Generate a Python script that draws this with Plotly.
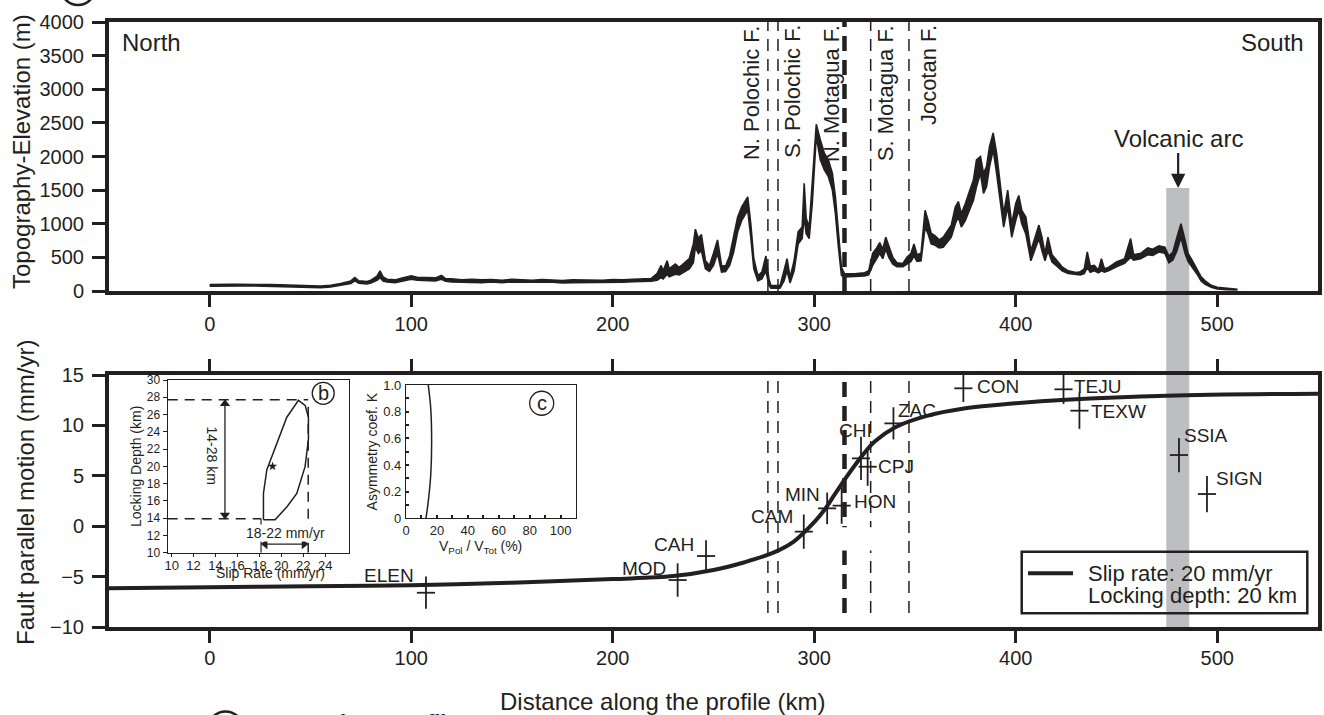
import plotly.graph_objects as go

# ---------------- data ----------------
# swath topography profile: distance (km), maximum and minimum elevation (m)
topo_km = [0, 5, 10, 15, 20, 25, 30, 35, 40, 45, 50, 55, 60, 65, 70, 72, 74, 78, 80, 83, 84.5, 86, 88, 92, 95,
           100, 103, 108, 112, 115, 117, 120, 125, 130, 135, 140, 145, 150, 155, 160, 165, 170, 175, 180, 185,
           190, 195, 200, 205, 210, 215, 219, 222, 224, 225, 227, 228, 231, 233, 235, 238, 240, 241, 242.5, 244,
           246, 248, 250, 252, 254, 256, 258, 260, 262, 264, 266, 267, 268.5, 270, 272, 274, 276, 277.5, 278.5,
           283, 285, 286.5, 288, 290, 292, 294, 295, 296, 297.5, 299, 301, 303, 305, 307, 309, 310.5, 312, 313.5,
           315, 320, 325, 327, 329, 331, 332.5, 334, 335.5, 337, 339, 341, 344, 346, 348, 349.5, 351, 353, 355,
           356.5, 358, 360, 362, 364, 366, 368, 370, 371.5, 373, 375, 377, 379, 380.5, 382.5, 384, 385.5, 387,
           388.8, 390.5, 392, 394, 396, 398, 400, 401.5, 403, 405, 407.5, 409.5, 411.5, 413, 414.5, 416, 418,
           420, 423, 426, 430, 432, 434, 435.5, 437, 439, 441, 442.5, 444, 446, 450, 454, 457, 458.5, 462, 465.5,
           468, 471, 474, 476, 478, 480, 482, 484, 485.5, 487.5, 490, 492, 494, 497, 500, 505, 510]
topo_max = [95, 100, 100, 98, 100, 98, 95, 92, 88, 80, 75, 72, 85, 110, 150, 200, 150, 140, 160, 220, 300, 210, 175,
            165, 190, 225, 205, 200, 195, 230, 185, 180, 165, 175, 165, 170, 160, 175, 165, 160, 170, 165, 155,
            165, 160, 165, 160, 170, 165, 175, 178, 185, 260, 380, 300, 450, 330, 400, 350, 400, 480, 700, 920,
            780, 840, 450, 380, 560, 760, 380, 370, 520, 800, 1100, 1250, 1340, 1400, 1000, 480, 230, 280, 520,
            180, 80, 80, 300, 480, 200, 450, 880, 950, 1600, 1080, 950, 1600, 2480, 2250, 2050, 1950, 1750, 1400,
            900, 350, 260, 255, 270, 300, 560, 640, 720, 620, 800, 660, 500, 420, 410, 500, 560, 700, 540, 560,
            1200, 1050, 860, 820, 760, 800, 900, 980, 1250, 1330, 1150, 1300, 1480, 1650, 1950, 2000, 1750, 1850,
            2150, 2350, 2050, 1700, 1150, 1500, 1000, 1300, 1420, 1200, 1100, 600, 780, 980, 800, 560, 800, 540,
            470, 360, 300, 275, 285, 330, 580, 370, 380, 310, 480, 330, 350, 430, 480, 780, 540, 560, 640, 620,
            670, 650, 520, 580, 800, 1000, 760, 560, 460, 330, 210, 150, 85, 55, 35, 25]
topo_min = [70, 75, 78, 75, 78, 75, 72, 68, 62, 58, 52, 50, 60, 80, 110, 150, 115, 105, 120, 160, 200, 150, 135,
            125, 140, 175, 160, 150, 150, 175, 145, 135, 130, 135, 125, 135, 125, 135, 130, 125, 130, 130, 120,
            125, 125, 130, 125, 130, 130, 140, 140, 145, 160, 200, 180, 250, 210, 250, 240, 280, 330, 420, 650,
            560, 600, 330, 290, 380, 560, 280, 290, 380, 580, 880, 1050, 1150, 1200, 800, 330, 150, 180, 300,
            90, 40, 40, 150, 300, 120, 300, 700, 780, 1100, 850, 780, 1300, 2300, 1950, 1800, 1700, 1500, 1150,
            650, 230, 210, 215, 225, 240, 380, 480, 560, 480, 620, 500, 400, 360, 360, 400, 440, 520, 440, 450,
            950, 850, 700, 680, 640, 650, 720, 800, 1000, 1100, 950, 1050, 1200, 1350, 1550, 1750, 1450, 1550,
            1850, 2100, 1750, 1400, 950, 1250, 800, 1050, 1200, 1000, 850, 450, 600, 780, 600, 450, 600, 430,
            380, 300, 260, 240, 240, 260, 350, 280, 300, 270, 300, 280, 300, 360, 410, 500, 460, 480, 540, 530,
            580, 560, 420, 460, 600, 800, 560, 440, 360, 250, 150, 100, 55, 30, 20, 15]

fault_km = [277, 282, 315, 328, 347]
fault_major = [False, False, True, False, False]
fault_names = ["N. Polochic F.", "S. Polochic F.", "N. Motagua F.", "S. Motagua F.", "Jocotan F."]
fault_label_km = [268.9, 289.2, 308.6, 335.2, 356.5]

arc_km = [474.7, 486.1]
arc_label_km = 480.6
arc_top_elev = 1530

# elastic dislocation model (slip rate 20 mm/yr, locking depth 20 km)
model_km = [-50, 0, 50, 100, 150, 200, 230, 250, 265, 280, 290, 300, 305, 310, 315, 320, 325, 330, 340,
            355, 375, 400, 425, 475, 550]
model_v = [-6.15, -6.05, -5.95, -5.85, -5.6, -5.25, -4.95, -4.35, -3.6, -2.6, -1.5, 0.4, 1.6, 3.1, 4.6,
           6.0, 7.3, 8.4, 9.8, 10.9, 11.7, 12.2, 12.55, 12.95, 13.15]
model_label = ["Slip rate: 20 mm/yr", "Locking depth: 20 km"]

st_names = ["ELEN", "MOD", "CAH", "CAM", "MIN", "HON", "CHI", "CPJ", "ZAC", "CON", "TEJU", "TEXW", "SSIA", "SIGN"]
st_km = [107.3, 232.2, 246.3, 294.8, 306.4, 313.6, 323.2, 326.5, 339.3, 374.0, 423.7, 431.6, 481.0, 494.9]
st_v = [-6.6, -5.34, -2.96, -0.54, 1.77, 2.04, 6.73, 5.9, 10.2, 13.68, 13.58, 11.46, 7.06, 3.19]
st_err = [1.6, 1.66, 1.57, 1.7, 1.57, 1.8, 2.15, 1.9, 1.6, 1.36, 1.45, 1.8, 1.7, 1.8]
st_km_err = 4.5

# inset b: slip rate / locking depth misfit contour
b_rate = [18.37, 18.37, 18.68, 19.59, 20.5, 21.56, 22.17, 22.47, 22.47, 22.17, 21.41, 20.5, 19.43, 18.37]
b_depth = [13.81, 16.87, 19.61, 22.75, 25.69, 27.65, 27.06, 25.69, 23.14, 20.0, 16.87, 15.3, 13.81, 13.81]
b_best_rate = [19.2]
b_best_depth = [20.0]
b_depth_range = [13.93, 27.7]
b_rate_range = [18.15, 22.45]

# inset c: asymmetry coefficient
c_ratio = [12.9, 14.4, 16.0, 16.6, 16.0, 14.4]
c_K = [0.0, 0.125, 0.325, 0.575, 0.825, 1.0]

# ---------------- layout helpers ----------------
W, H = 1324, 715
ML, MR, MT, MB = 109, 6, 22, 88
PW, PH = W - ML - MR, H - MT - MB


def px(x):
    return (x - ML) / PW


def py(y):
    return (H - MB - y) / PH


INK = "#231f20"
FONT = "Liberation Sans, Arial, sans-serif"

fig = go.Figure()

# topography swath (band between min and max)
fig.add_trace(go.Scatter(x=topo_km, y=topo_min, mode="lines", xaxis="x", yaxis="y",
                         line=dict(color=INK, width=1.6), showlegend=False, hoverinfo="skip"))
fig.add_trace(go.Scatter(x=topo_km, y=topo_max, mode="lines", xaxis="x", yaxis="y", fill="tonexty",
                         fillcolor=INK, line=dict(color=INK, width=1.6), showlegend=False, hoverinfo="skip"))

# model curve
fig.add_trace(go.Scatter(x=model_km, y=model_v, mode="lines", xaxis="x2", yaxis="y2",
                         line=dict(color=INK, width=4, shape="spline", smoothing=1.0),
                         name=" ".join(model_label), showlegend=False, hoverinfo="skip"))

# GPS stations
fig.add_trace(go.Scatter(x=st_km, y=st_v, mode="markers", xaxis="x2", yaxis="y2",
                         marker=dict(color="rgba(0,0,0,0)", size=2),
                         error_x=dict(type="constant", value=st_km_err, width=0, thickness=1.8, color=INK),
                         error_y=dict(type="data", array=st_err, width=0, thickness=1.8, color=INK),
                         showlegend=False, hoverinfo="skip"))

# inset b
fig.add_trace(go.Scatter(x=b_rate, y=b_depth, mode="lines", xaxis="x3", yaxis="y3",
                         line=dict(color=INK, width=1.5), showlegend=False, hoverinfo="skip"))
fig.add_trace(go.Scatter(x=b_best_rate, y=b_best_depth, mode="markers", xaxis="x3", yaxis="y3",
                         marker=dict(symbol="star", size=7, color=INK), showlegend=False, hoverinfo="skip"))
# double arrows (depth range, rate range)
arr_x = 14.86
fig.add_trace(go.Scatter(x=[arr_x, arr_x], y=[b_depth_range[1] - 0.45, b_depth_range[0] + 0.45],
                         mode="lines+markers", xaxis="x3", yaxis="y3", line=dict(color=INK, width=1.3),
                         marker=dict(symbol=["triangle-up", "triangle-down"], size=9, color=INK),
                         showlegend=False, hoverinfo="skip"))
fig.add_trace(go.Scatter(x=[b_rate_range[0] + 0.38, b_rate_range[1] - 0.38], y=[11.0, 11.0],
                         mode="lines+markers", xaxis="x3", yaxis="y3", line=dict(color=INK, width=1.3),
                         marker=dict(symbol=["triangle-left", "triangle-right"], size=9, color=INK),
                         showlegend=False, hoverinfo="skip"))

# inset c
fig.add_trace(go.Scatter(x=c_ratio, y=c_K, mode="lines", xaxis="x4", yaxis="y4",
                         line=dict(color=INK, width=1.5, shape="spline"), showlegend=False, hoverinfo="skip"))

shapes = []
# volcanic arc band
shapes.append(dict(type="rect", xref="x", yref="paper", x0=arc_km[0], x1=arc_km[1], y0=0,
                   y1=py(291) + (arc_top_elev / 4000) * (1 - py(291)),
                   fillcolor="#bcbec0", line=dict(width=0), layer="below"))
# fault lines
for fk, major in zip(fault_km, fault_major):
    style = dict(color=INK, width=4.5 if major else 1.5, dash="15px,9px" if major else "12px,8px")
    shapes.append(dict(type="line", xref="x", yref="y domain", x0=fk, x1=fk, y0=0, y1=1,
                       line=style, layer="below"))
    shapes.append(dict(type="line", xref="x2", yref="y2", x0=fk, x1=fk, y0=-8.6, y1=15,
                       line=style, layer="below"))
# gap in fault lines near HON
shapes.append(dict(type="rect", xref="x2", yref="y2", x0=311, x1=331, y0=-2.4, y1=-0.1,
                   fillcolor="white", line=dict(width=0), layer="below"))

# inset b dashed guides and bounds
dash_b = dict(color=INK, width=1.5, dash="10px,7px")
shapes.append(dict(type="line", xref="x3", yref="y3", x0=9.64, x1=b_rate_range[1],
                   y0=b_depth_range[1], y1=b_depth_range[1], line=dash_b))
shapes.append(dict(type="line", xref="x3", yref="y3", x0=9.64, x1=b_rate_range[0],
                   y0=b_depth_range[0], y1=b_depth_range[0], line=dash_b))
shapes.append(dict(type="line", xref="x3", yref="y3", x0=b_rate_range[1], x1=b_rate_range[1],
                   y0=10, y1=b_depth_range[1], line=dash_b))
shapes.append(dict(type="line", xref="x3", yref="y3", x0=b_rate_range[0], x1=b_rate_range[0],
                   y0=10, y1=b_depth_range[0], line=dict(color=INK, width=1.2)))
# panel circles
shapes.append(dict(type="circle", xref="x3", yref="y3", xsizemode="pixel", ysizemode="pixel",
                   xanchor=23.82, yanchor=28.46, x0=-11, x1=11, y0=-11, y1=11,
                   line=dict(color=INK, width=1.3)))
shapes.append(dict(type="circle", xref="x4", yref="y4", xsizemode="pixel", ysizemode="pixel",
                   xanchor=87.8, yanchor=0.863, x0=-12, x1=12, y0=-12, y1=12,
                   line=dict(color=INK, width=1.3)))
shapes.append(dict(type="circle", xref="paper", yref="paper", x0=px(61), x1=px(95), y0=py(5), y1=py(-29),
                   line=dict(color=INK, width=2.5)))
shapes.append(dict(type="circle", xref="paper", yref="paper", x0=px(208), x1=px(243), y0=py(746), y1=py(711.5),
                   line=dict(color=INK, width=2.5)))
# legend box and sample line for the model curve
shapes.append(dict(type="rect", xref="paper", yref="paper", x0=px(1021.7), x1=px(1307.3), y0=py(613.3),
                   y1=py(551.7), line=dict(color=INK, width=2.5)))
shapes.append(dict(type="line", xref="paper", yref="paper", x0=px(1028), x1=px(1073), y0=py(573.3),
                   y1=py(573.3), line=dict(color=INK, width=4)))

ann = []
fs = dict(family=FONT, color=INK)
# axis titles
ann.append(dict(text="Topography-Elevation (m)", x=px(22), y=py(152), xref="paper", yref="paper",
                xanchor="center", yanchor="middle", textangle=-90, showarrow=False, font=dict(size=24, **fs)))
ann.append(dict(text="Fault parallel motion (mm/yr)", x=px(25), y=py(493), xref="paper", yref="paper",
                xanchor="center", yanchor="middle", textangle=-90, showarrow=False, font=dict(size=24, **fs)))
ann.append(dict(text="Distance along the profile (km)", x=px(662), y=py(701), xref="paper", yref="paper",
                xanchor="center", yanchor="middle", showarrow=False, font=dict(size=24, **fs)))
ann.append(dict(text="North", x=px(120), y=py(43), xref="paper", yref="paper", xanchor="left",
                yanchor="middle", showarrow=False, font=dict(size=24, **fs)))
ann.append(dict(text="South", x=px(1306), y=py(43), xref="paper", yref="paper", xanchor="right",
                yanchor="middle", showarrow=False, font=dict(size=24, **fs)))
for name, lk in zip(fault_names, fault_label_km):
    ann.append(dict(text=name, x=lk, y=1, xref="x", yref="y domain", xanchor="center", yanchor="top",
                    yshift=-1, textangle=-90, showarrow=False, font=dict(size=22, **fs)))
ann.append(dict(text="Volcanic arc", x=arc_label_km, y=arc_top_elev, xref="x", yref="y",
                ax=0, ay=-50, showarrow=True, arrowhead=2, arrowsize=1.3, arrowwidth=2.2,
                arrowcolor=INK, font=dict(size=24, **fs)))
for i, txt in enumerate(model_label):
    ann.append(dict(text=txt, x=px(1086), y=py(573 + 22 * i), xref="paper", yref="paper", xanchor="left",
                    yanchor="middle", showarrow=False, font=dict(size=22, **fs)))

# station labels (anchor, dx, dy in px)
st_label_pos = [("right", -10, -17), ("right", -10, -12), ("right", -10, -12), ("right", -9, -15),
                ("right", -5, -14), ("left", 10, -4), ("right", 13, -28), ("left", 8, 0),
                ("left", 3, -13), ("left", 12, -2), ("left", 8, -3), ("left", 10, 1),
                ("left", 3, -20), ("left", 7, -16)]
for name, k, v, (anc, dx, dy) in zip(st_names, st_km, st_v, st_label_pos):
    ann.append(dict(text=name, x=k, y=v, xref="x2", yref="y2", xanchor=anc, yanchor="middle",
                    xshift=dx, yshift=-dy, showarrow=False, font=dict(size=19, **fs)))

# inset texts
ann.append(dict(text="14-28 km", x=13.65, y=21.3, xref="x3", yref="y3", textangle=90, showarrow=False,
                font=dict(size=14, **fs)))
ann.append(dict(text="18-22 mm/yr", x=20.4, y=12.25, xref="x3", yref="y3", showarrow=False,
                bgcolor="white", borderpad=0, font=dict(size=14, **fs)))
ann.append(dict(text="Slip Rate (mm/yr)", x=18.97, y=py(573), xref="x3", yref="paper", showarrow=False,
                xanchor="center", yanchor="middle", font=dict(size=14, **fs)))
ann.append(dict(text="V<sub>Pol</sub> / V<sub>Tot</sub> (%)", x=48.5, y=py(547), xref="x4", yref="paper",
                xanchor="center", yanchor="middle", showarrow=False, font=dict(size=14, **fs)))
ann.append(dict(text="b", x=23.82, y=28.46, xref="x3", yref="y3", showarrow=False, font=dict(size=20, **fs)))
ann.append(dict(text="c", x=87.8, y=0.863, xref="x4", yref="y4", showarrow=False, font=dict(size=20, **fs)))
ann.append(dict(text="d", x=px(225.5), y=py(726), xref="paper", yref="paper", xanchor="center",
                yanchor="middle", showarrow=False, font=dict(size=24, **fs)))
ann.append(dict(text="<b>Comparison profile</b>", x=px(255), y=py(708), xref="paper", yref="paper",
                xanchor="left", yanchor="top", showarrow=False, font=dict(size=22, **fs)))

tickfont = dict(family=FONT, size=20, color=INK)
main_ax = dict(showgrid=False, zeroline=False, showline=True, linewidth=4, linecolor=INK,
               ticks="outside", tickwidth=2.5, tickcolor=INK, tickfont=tickfont, automargin=False)
inset_ax = dict(showgrid=False, zeroline=False, showline=True, linewidth=1.3, linecolor=INK, mirror=True,
                automargin=False)

fig.update_layout(
    width=W, height=H, margin=dict(l=ML, r=MR, t=MT, b=MB),
    paper_bgcolor="white", plot_bgcolor="white",
    font=dict(family=FONT, color=INK),
    shapes=shapes, annotations=ann,
    showlegend=False,
    xaxis=dict(main_ax, domain=[0, 1], anchor="y", range=[-50, 550], tickvals=[0, 100, 200, 300, 400, 500],
               ticklen=12, mirror=True, ticklabelstandoff=0),
    yaxis=dict(main_ax, domain=[py(291), 1], anchor="x", range=[0, 4000], dtick=500, ticklen=13,
               mirror=True, ticklabelstandoff=4),
    xaxis2=dict(main_ax, domain=[0, 1], anchor="y2", range=[-50, 550], tickvals=[0, 100, 200, 300, 400, 500],
                ticklen=12, mirror="ticks", ticklabelstandoff=-2),
    yaxis2=dict(main_ax, domain=[0, py(375)], anchor="x2", range=[-10, 15], dtick=5, ticklen=13,
                mirror=True, ticklabelstandoff=4),
    xaxis3=dict(inset_ax, domain=[px(167.7), px(349)], anchor="y3", range=[9.64, 26.17],
                ticks="outside", ticklen=3, tickcolor=INK,
                tickwidth=1, tickvals=[10, 12, 14, 16, 18, 20, 22, 24], tickfont=dict(family=FONT, size=13, color=INK),
                ticklabelstandoff=-2),
    yaxis3=dict(inset_ax, domain=[py(552.7), py(380)], anchor="x3", range=[10, 30],
                ticks="outside", ticklen=4, tickcolor=INK,
                tickwidth=1, dtick=2, tickfont=dict(family=FONT, size=12, color=INK), ticklabelstandoff=0,
                title=dict(text="Locking Depth (km)", font=dict(family=FONT, size=14, color=INK), standoff=1)),
    xaxis4=dict(inset_ax, domain=[px(406), px(576)], anchor="y4", range=[0, 110],
                ticks="inside", ticklen=3, tickcolor=INK,
                tickwidth=1.5, tickvals=[0, 20, 40, 60, 80, 100], tickfont=dict(family=FONT, size=13, color=INK),
                minor=dict(ticks="inside", ticklen=3, dtick=10, tickwidth=1.5, tickcolor=INK),
                ticklabelstandoff=0),
    yaxis4=dict(inset_ax, domain=[py(518.3), py(385)], anchor="x4", range=[0, 1],
                ticks="inside", ticklen=3, tickcolor=INK,
                tickwidth=1.5, tickvals=[0, 0.2, 0.4, 0.6, 0.8, 1.0],
                ticktext=["0", "0.2", "0.4", "0.6", "0.8", "1.0"],
                minor=dict(ticks="inside", ticklen=3, dtick=0.1, tickwidth=1.5, tickcolor=INK),
                tickfont=dict(family=FONT, size=13, color=INK), ticklabelstandoff=1,
                title=dict(text="Asymmetry coef. K", font=dict(family=FONT, size=14, color=INK), standoff=2)),
)

fig.write_html("out.html", config={"displayModeBar": False},
               post_script="document.body.style.margin='0';document.body.style.overflow='hidden';")
